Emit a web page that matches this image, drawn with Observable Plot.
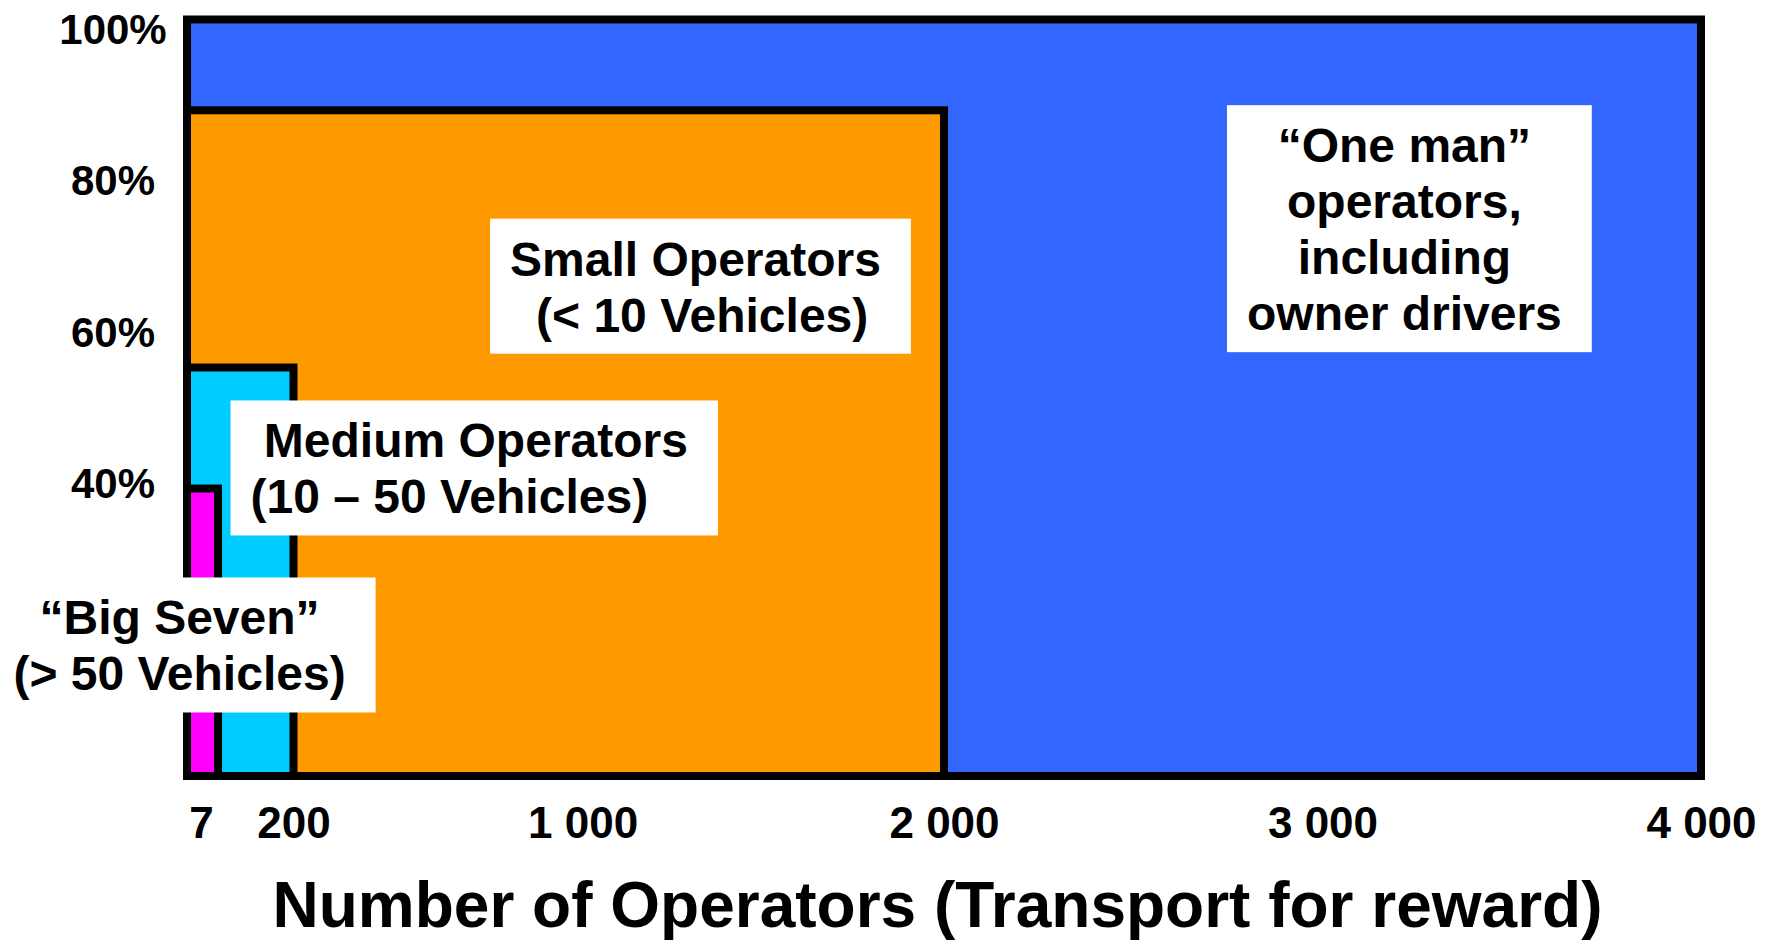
<!DOCTYPE html>
<html>
<head>
<meta charset="utf-8">
<script src="https://cdn.jsdelivr.net/npm/d3@7"></script>
<script src="https://cdn.jsdelivr.net/npm/@observablehq/plot@0.6"></script>
<style>
  html, body { margin: 0; padding: 0; background: #ffffff; }
  #chart svg { display: block; }
</style>
</head>
<body>
<div id="chart"></div>
<script>
// ---- Data ----
const segmentNames = ["Big Seven", "Medium Operators", "Small Operators", "One man operators"];
const cumulativeOperators = [7, 200, 2000, 4000];   // x extent of each nested block
const cumulativeShare = [38, 54, 88, 100];          // y extent (%) of each nested block
const segmentColors = ["#FF00FF", "#00CCFF", "#FF9900", "#3366FF"];

const xTickValues = [7, 200, 1000, 2000, 3000, 4000];
const xTickLabels = ["7", "200", "1 000", "2 000", "3 000", "4 000"];
const yTickValues = [40, 60, 80, 100];
const yTickLabels = ["40%", "60%", "80%", "100%"];
const xTitle = "Number of Operators (Transport for reward)";

const labelTexts = [
  "“One man”\noperators,\nincluding\nowner drivers",
  "Small Operators\n\u00A0(< 10 Vehicles)",
  "\u00A0Medium Operators\n(10 – 50 Vehicles)",
  "“Big Seven”\n(> 50 Vehicles)"
];
const labelOperators = [3215, 1311, 88.8, 0];
const labelShare = [59.0, 58.8, 34.77, 11.37];

// ---- Layout ----
const W = 1772, H = 944;
const mL = 187, mR = 71, mT = 19.5, mB = 168;
const fw = W - mL - mR;
// schematic (piecewise) x scale: 0, 7, 200, 2000, 4000
const xDomain = [0, 7, 200, 2000, 4000];
const xFractions = [0, 0.0205, 0.07034, 0.5, 1];
const xRange = xFractions.map(f => mL + f * fw);

const blocks = segmentNames.map((name, i) => ({
  name, ops: cumulativeOperators[i], share: cumulativeShare[i], color: segmentColors[i]
})).reverse(); // draw largest first

const labels = labelTexts.map((t, i) => ({text: t, x: labelOperators[i], y: labelShare[i]}));
const centered = labels.filter(d => !d.text.startsWith("\u00A0Medium") && !d.text.startsWith("“Big"));
const startAnch = labels.filter(d => d.text.startsWith("\u00A0Medium"));
const bigSeven = labels.filter(d => d.text.startsWith("“Big"));

const font = "'Liberation Sans', Arial, Helvetica, sans-serif";
const labelOpts = {fontSize: 48, fontWeight: "bold", fill: "black", lineAnchor: "bottom", lineHeight: 56 / 48, ariaDescription: "annotation"};

const chart = Plot.plot({
  width: W,
  height: H,
  marginLeft: mL,
  marginRight: mR,
  marginTop: mT,
  marginBottom: mB,
  style: {fontFamily: font, background: "#ffffff", color: "black"},
  x: {type: "linear", domain: xDomain, range: xRange, axis: null},
  y: {domain: [0, 100], axis: null},
  color: {type: "identity"},
  marks: [
    Plot.rect(blocks, {x1: 0, x2: "ops", y1: 0, y2: "share", fill: "color", stroke: "black", strokeWidth: 8}),
    // annotation labels (white boxes added after render)
    Plot.text(centered, {x: "x", y: "y", text: "text", textAnchor: "middle", ...labelOpts}),
    Plot.text(startAnch, {x: "x", y: "y", text: "text", textAnchor: "start", ...labelOpts}),
    Plot.text(bigSeven, {x: "x", y: "y", text: "text", textAnchor: "middle", dx: -8, ...labelOpts}),
    // x tick labels
    Plot.text(xTickValues.slice(0, 1), {x: d => d, text: d => xTickLabels[xTickValues.indexOf(d)], frameAnchor: "bottom", lineAnchor: "top", dy: 30, dx: -17, fontSize: 44, fontWeight: "bold", fill: "black"}),
    Plot.text(xTickValues.slice(1), {x: d => d, text: d => xTickLabels[xTickValues.indexOf(d)], frameAnchor: "bottom", lineAnchor: "top", dy: 30, fontSize: 44, fontWeight: "bold", fill: "black"}),
    // y tick labels
    Plot.text(yTickValues, {y: d => d, text: d => yTickLabels[yTickValues.indexOf(d)], frameAnchor: "left", textAnchor: "middle", dx: -74.5, dy: 10.5, fontSize: 42, fontWeight: "bold", fill: "black"}),
    // axis title
    Plot.text([xTitle], {text: d => d, frameAnchor: "bottom", lineAnchor: "bottom", dy: 150, dx: -7, fontSize: 64, fontWeight: "bold", fill: "black"})
  ]
});

document.getElementById("chart").append(chart);

// White label boxes behind annotation texts, sized from the rendered text
const pad = {l: 20, r: 30, t: 14, b: 12};
let groups = Array.from(chart.querySelectorAll('g[aria-description="annotation"]'));
let texts = groups.flatMap(g => Array.from(g.querySelectorAll("text")));
if (texts.length === 0) {
  texts = Array.from(chart.querySelectorAll("text")).filter(t =>
    labelTexts.some(s => s.replace(/\n/g, "").replace(/\u00A0/g, " ").trim() === t.textContent.replace(/\u00A0/g, " ").trim()));
}
texts.forEach(t => {
  const bb = t.getBBox();
  const r = document.createElementNS("http://www.w3.org/2000/svg", "rect");
  r.setAttribute("x", bb.x - pad.l);
  r.setAttribute("y", bb.y - pad.t);
  r.setAttribute("width", bb.width + pad.l + pad.r);
  r.setAttribute("height", bb.height + pad.t + pad.b);
  r.setAttribute("fill", "#ffffff");
  r.setAttribute("stroke", "none");
  const tr = t.getAttribute("transform");
  if (tr) r.setAttribute("transform", tr);
  t.parentNode.insertBefore(r, t);
});
</script>
</body>
</html>
